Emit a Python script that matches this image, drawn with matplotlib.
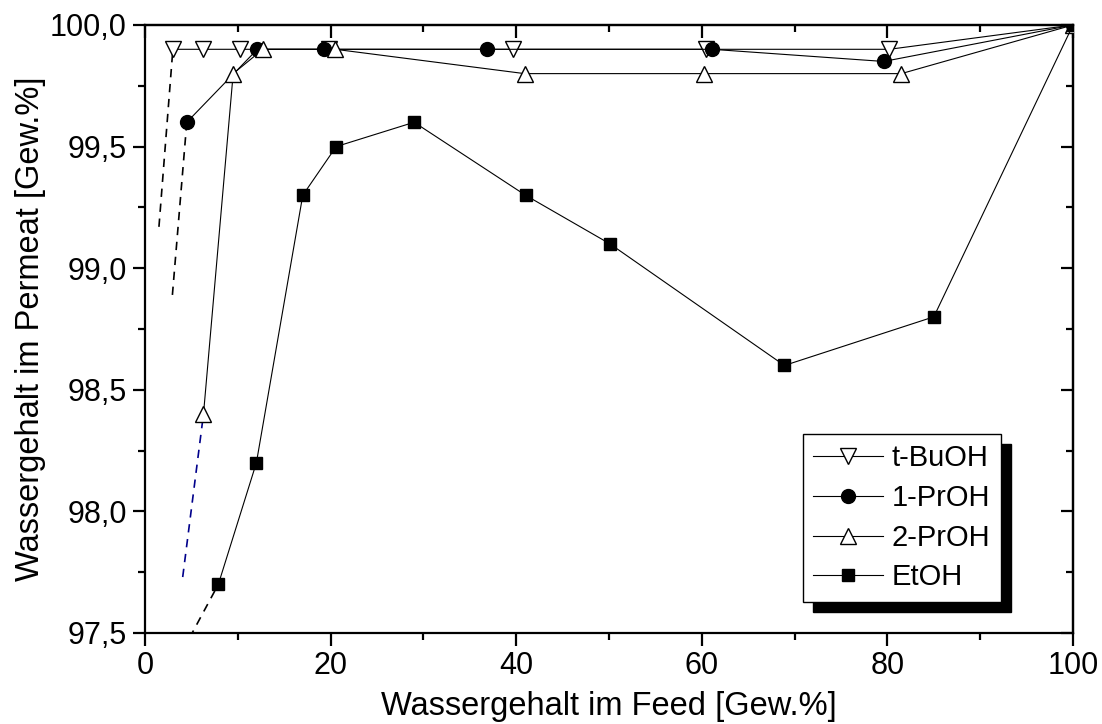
import numpy as np
import matplotlib
matplotlib.use("Agg")
import matplotlib.pyplot as plt
from matplotlib.patches import Rectangle
from matplotlib.transforms import IdentityTransform
from matplotlib.ticker import MultipleLocator, FuncFormatter

plt.rcParams["font.family"] = ["Liberation Sans", "DejaVu Sans"]

# data
tbuoh_x = [3.0, 6.2, 10.2, 19.8, 39.6, 60.4, 80.2, 100.0]
tbuoh_y = [99.9, 99.9, 99.9, 99.9, 99.9, 99.9, 99.9, 100.0]
tbuoh_ext_x = [1.5, 3.0]
tbuoh_ext_y = [99.17, 99.9]

prop1_x = [4.5, 12.1, 19.3, 36.9, 61.1, 79.6, 100.0]
prop1_y = [99.6, 99.9, 99.9, 99.9, 99.9, 99.85, 100.0]
prop1_ext_x = [2.95, 4.5]
prop1_ext_y = [98.89, 99.6]

prop2_x = [6.3, 9.5, 12.7, 20.5, 40.9, 60.2, 81.5, 100.0]
prop2_y = [98.4, 99.8, 99.9, 99.9, 99.8, 99.8, 99.8, 100.0]
prop2_ext_x = [4.06, 6.3]
prop2_ext_y = [97.73, 98.4]

etoh_x = [7.9, 12.0, 17.0, 20.6, 29.0, 41.0, 50.1, 68.9, 85.0, 100.0]
etoh_y = [97.7, 98.2, 99.3, 99.5, 99.6, 99.3, 99.1, 98.6, 98.8, 100.0]
etoh_ext_x = [4.8, 7.9]
etoh_ext_y = [97.48, 97.7]

fig = plt.figure(figsize=(11.02, 7.24), dpi=100)
ax = fig.add_axes([0.1316, 0.1257, 0.8421, 0.8398])

lw = 0.8
ax.plot(tbuoh_x, tbuoh_y, "-", color="black", lw=lw, marker="v", ms=11,
        mfc="white", mec="black", mew=1.0, label="t-BuOH", zorder=3)
ax.plot(prop1_x, prop1_y, "-", color="black", lw=lw, marker="o", ms=10,
        mfc="black", mec="black", label="1-PrOH", zorder=3)
ax.plot(prop2_x, prop2_y, "-", color="black", lw=lw, marker="^", ms=11,
        mfc="white", mec="black", mew=1.0, label="2-PrOH", zorder=3)
ax.plot(etoh_x, etoh_y, "-", color="black", lw=lw, marker="s", ms=9,
        mfc="black", mec="black", label="EtOH", zorder=3)

ax.plot(tbuoh_ext_x, tbuoh_ext_y, "--", color="black", lw=1.2, dashes=(5, 4), zorder=2)
ax.plot(prop1_ext_x, prop1_ext_y, "--", color="black", lw=1.2, dashes=(5, 4), zorder=2)
ax.plot(prop2_ext_x, prop2_ext_y, "--", color="#00008b", lw=1.2, dashes=(5, 4), zorder=2)
ax.plot(etoh_ext_x, etoh_ext_y, "--", color="black", lw=1.2, dashes=(5, 4), zorder=2)

ax.set_xlim(0, 100)
ax.set_ylim(97.5, 100.0)
ax.xaxis.set_major_locator(MultipleLocator(20))
ax.xaxis.set_minor_locator(MultipleLocator(10))
ax.yaxis.set_major_locator(MultipleLocator(0.5))
ax.yaxis.set_minor_locator(MultipleLocator(0.25))
ax.yaxis.set_major_formatter(FuncFormatter(lambda v, p: f"{v:.1f}".replace(".", ",")))

# bottom/left ticks point outward, top/right inward
ax.tick_params(which="both", direction="out", width=1.6, labelsize=22, pad=4)
ax.tick_params(which="major", length=9)
ax.tick_params(which="minor", length=5)
ax2 = ax.secondary_xaxis("top")
ax2.xaxis.set_major_locator(MultipleLocator(20))
ax2.xaxis.set_minor_locator(MultipleLocator(10))
ax2.tick_params(which="both", direction="in", width=1.6, labeltop=False)
ax2.tick_params(which="major", length=9)
ax2.tick_params(which="minor", length=5)
ax3 = ax.secondary_yaxis("right")
ax3.yaxis.set_major_locator(MultipleLocator(0.5))
ax3.yaxis.set_minor_locator(MultipleLocator(0.25))
ax3.tick_params(which="both", direction="in", width=1.6, labelright=False)
ax3.tick_params(which="major", length=9)
ax3.tick_params(which="minor", length=5)
for a in (ax, ax2, ax3):
    for s in a.spines.values():
        s.set_linewidth(1.6)

ax.set_xlabel("Wassergehalt im Feed [Gew.%]", fontsize=23.5, labelpad=7)
ax.set_ylabel("Wassergehalt im Permeat [Gew.%]", fontsize=23.5, labelpad=3)

leg = ax.legend(loc="upper left", bbox_to_anchor=(0.709, 0.327), fontsize=21,
                frameon=True, fancybox=False, edgecolor="black", framealpha=1,
                handlelength=2.4, handletextpad=0.3, labelspacing=0.4,
                borderpad=0.35, borderaxespad=0)
leg.get_frame().set_linewidth(1.0)
leg.set_zorder(6)

fig.canvas.draw()
bb = leg.get_frame().get_window_extent()
shadow = Rectangle((bb.x0 + 10, bb.y0 - 10), bb.width, bb.height,
                   transform=IdentityTransform(), facecolor="black",
                   edgecolor="black", zorder=5, clip_on=False)
ax.add_artist(shadow)

fig.savefig("out.png", dpi=100)
